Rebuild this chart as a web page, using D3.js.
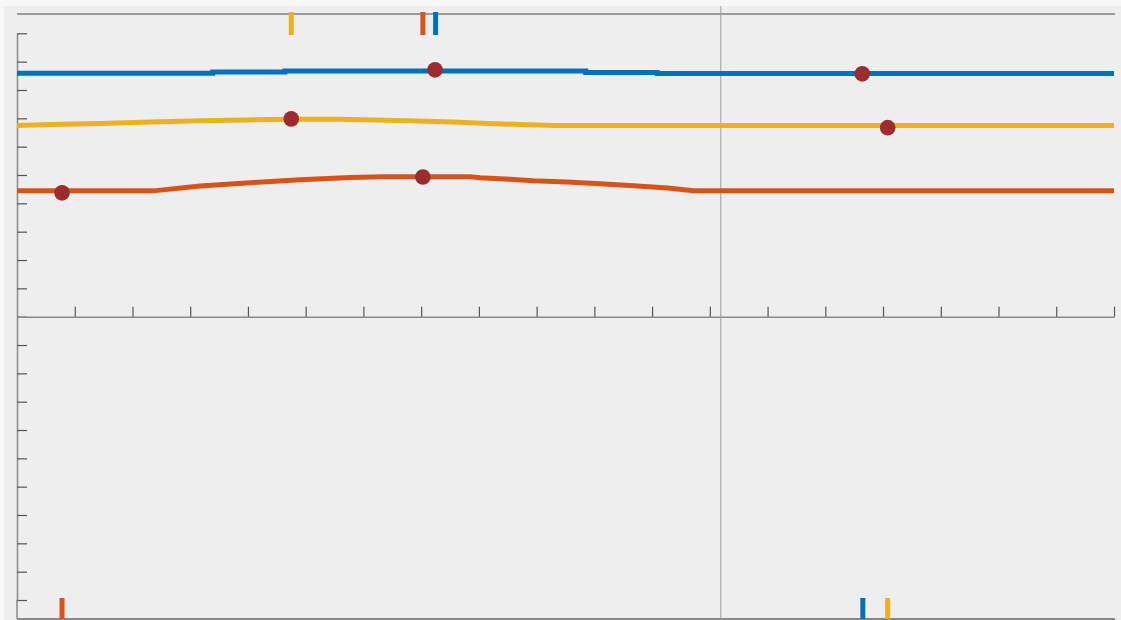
<!DOCTYPE html>
<html>
<head>
<meta charset="utf-8">
<script src="https://cdn.jsdelivr.net/npm/d3@7"></script>
<style>
  html, body { margin: 0; padding: 0; background: #ffffff; }
  svg { display: block; }
</style>
</head>
<body>
<svg id="chart" width="1121" height="620"></svg>
<script>
// ---- data ----
const xTickValues = [1,2,3,4,5,6,7,8,9,10,11,12,13,14,15,16,17,18,19];
const yTopTicks = [0,1,2,3,4,5,6,7,8,9,10];
const yBotTicks = [1,2,3,4,5,6,7,8,9,10];

const blueT  = [0, 3.39, 4.64, 9.85, 11.09, 19];
const blueV  = [8.59, 8.635, 8.67, 8.615, 8.58, 8.58];

const yellowT = [0, 0.75, 1.44, 2.31, 3.17, 3.95, 4.75, 5.60, 6.78, 7.56, 8.16, 8.72, 9.32, 19];
const yellowV = [6.75, 6.79, 6.82, 6.87, 6.91, 6.94, 6.97, 6.97, 6.91, 6.87, 6.82, 6.78, 6.75, 6.75];

const orangeT = [0, 2.36, 3.17, 4.04, 4.90, 5.77, 6.34, 7.0, 7.85, 8.02, 8.54, 8.94, 9.53, 10.10, 10.68, 11.27, 11.72, 19];
const orangeV = [4.44, 4.44, 4.61, 4.73, 4.83, 4.91, 4.94, 4.94, 4.94, 4.90, 4.85, 4.80, 4.755, 4.695, 4.624, 4.543, 4.445, 4.445];

const dotSeries = ["orange", "yellow", "orange", "blue", "blue", "yellow"];
const dotT = [0.78, 4.75, 7.03, 7.24, 14.64, 15.08];
const dotV = [4.37, 6.98, 4.93, 8.71, 8.57, 6.67];

const maxMarkSeries = ["yellow", "orange", "blue"];
const maxMarkT = [4.75, 7.03, 7.25];
const minMarkSeries = ["orange", "blue", "yellow"];
const minMarkT = [0.78, 14.65, 15.08];

const cursorT = 12.19;

// ---- styles ----
const colors = { blue: "#0072BD", orange: "#D95319", yellow: "#EDB120" };
const dotColor = "#9E2B2D";

const svg = d3.select("#chart");
const W = 1121, H = 620;

svg.append("rect").attr("width", W).attr("height", H).attr("fill", "#eeeeee");
svg.append("rect").attr("width", W).attr("height", 6).attr("fill", "#f8f8f8");
svg.append("rect").attr("width", 4).attr("height", H).attr("fill", "#f8f8f8");

const x = d3.scaleLinear().domain([0, 19]).range([17, 1114]);
const yTop = d3.scaleLinear().domain([0, 10]).range([316.7, 33.3]);
const yBot = d3.scaleLinear().domain([0, 10]).range([316.7, 600]);

const axisColor = "#8a8a8a";
const tickColor = "#555555";

// top frame line
svg.append("line")
  .attr("x1", x(0)).attr("x2", x(19) + 1)
  .attr("y1", yTop(10.68)).attr("y2", yTop(10.68))
  .attr("stroke", "#808080").attr("stroke-width", 1.5);

// bottom frame line
svg.append("line")
  .attr("x1", x(0)).attr("x2", x(19) + 1)
  .attr("y1", yBot(10.67)).attr("y2", yBot(10.67))
  .attr("stroke", "#666666").attr("stroke-width", 1.5);

// left axis (top panel)
const gTopY = svg.append("g")
  .attr("transform", `translate(${x(0)},0)`)
  .call(d3.axisRight(yTop).tickValues(yTopTicks).tickSize(10).tickSizeOuter(0).tickFormat(""));
// left axis (bottom panel)
const gBotY = svg.append("g")
  .attr("transform", `translate(${x(0)},0)`)
  .call(d3.axisRight(yBot).tickValues(yBotTicks).tickSize(10).tickSizeOuter(0).tickFormat(""));
// extend left axis to bottom
svg.append("line")
  .attr("x1", x(0)).attr("x2", x(0))
  .attr("y1", yBot(10)).attr("y2", yBot(10.67))
  .attr("stroke", axisColor).attr("stroke-width", 1.5);

// x axis in the middle
const gX = svg.append("g")
  .attr("transform", `translate(0,${yTop(0)})`)
  .call(d3.axisTop(x).tickValues(xTickValues).tickSize(10).tickSizeOuter(0).tickFormat(""));

[gTopY, gBotY, gX].forEach(g => {
  g.select(".domain").attr("stroke", axisColor).attr("stroke-width", 1.5);
  g.selectAll(".tick line").attr("stroke", tickColor).attr("stroke-width", 1.2);
});

// cursor line
svg.append("line")
  .attr("x1", x(cursorT)).attr("x2", x(cursorT))
  .attr("y1", 6).attr("y2", H)
  .attr("stroke", "#a89a90").attr("stroke-width", 1);

// series lines
function series(T, V) { return T.map((t, i) => [t, V[i]]); }
const lineLin = d3.line().x(d => x(d[0])).y(d => yTop(d[1]));
const lineStep = d3.line().x(d => x(d[0])).y(d => yTop(d[1])).curve(d3.curveStepAfter);

svg.append("path").attr("d", lineLin(series(orangeT, orangeV)))
  .attr("fill", "none").attr("stroke", colors.orange).attr("stroke-width", 5);
svg.append("path").attr("d", lineLin(series(yellowT, yellowV)))
  .attr("fill", "none").attr("stroke", colors.yellow).attr("stroke-width", 5);
svg.append("path").attr("d", lineStep(series(blueT, blueV)))
  .attr("fill", "none").attr("stroke", colors.blue).attr("stroke-width", 5);

// dots
svg.selectAll("circle.dot")
  .data(dotT.map((t, i) => ({ t, v: dotV[i], s: dotSeries[i] })))
  .enter().append("circle")
  .attr("class", "dot")
  .attr("cx", d => x(d.t)).attr("cy", d => yTop(d.v))
  .attr("r", 7.8).attr("fill", dotColor);

// max markers (top)
svg.selectAll("rect.maxm")
  .data(maxMarkT.map((t, i) => ({ t, s: maxMarkSeries[i] })))
  .enter().append("rect")
  .attr("class", "maxm")
  .attr("x", d => x(d.t) - 2.5).attr("y", 12)
  .attr("width", 5).attr("height", 23)
  .attr("fill", d => colors[d.s]);

// min markers (bottom)
svg.selectAll("rect.minm")
  .data(minMarkT.map((t, i) => ({ t, s: minMarkSeries[i] })))
  .enter().append("rect")
  .attr("class", "minm")
  .attr("x", d => x(d.t) - 2.5).attr("y", 598)
  .attr("width", 5).attr("height", 21)
  .attr("fill", d => colors[d.s]);
</script>
</body>
</html>
